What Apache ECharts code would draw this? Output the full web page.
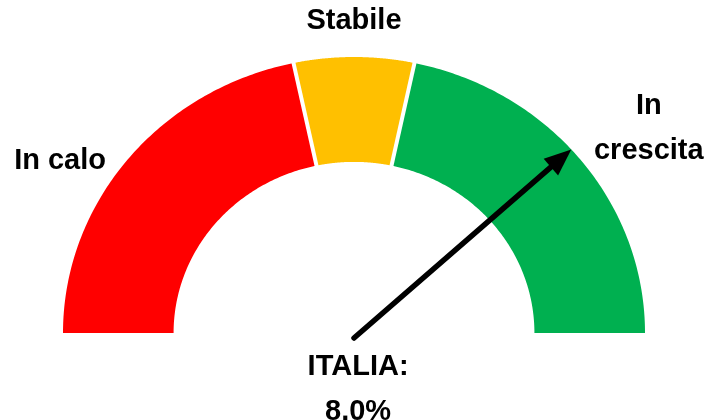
<!DOCTYPE html>
<html>
<head>
<meta charset="utf-8">
<script src="https://cdn.jsdelivr.net/npm/echarts@6/dist/echarts.min.js"></script>
<style>
html,body{margin:0;padding:0;background:#fff;}
#chart{width:705px;height:420px;}
</style>
</head>
<body>
<div id="chart"></div>
<script>
// ---- data ----
const categories = ['In calo', 'Stabile', 'In crescita'];
const categoryLabels = ['In calo', 'Stabile', 'In\ncrescita'];
const values = [65, 20, 65];
const colors = ['#FF0000', '#FFC000', '#00B050'];
const pointerName = 'ITALIA';
const pointerValue = 8.0;           // %
const pointerAngle = 41.7;          // degrees, direction of the arrow
// ---- layout (not data) ----
const innerRatio = 0.62;
const labelAnchors = [[-1.01, 0.625], [0.0, 1.13], [1.013, 0.74]];
const pointerLabelAnchor = [0.014, -0.205];
const FONT = 'bold 29px "Liberation Sans", Arial, sans-serif';

const total = values.reduce((a, b) => a + b, 0);
let acc = 0;
const segData = values.map((v, i) => {
  const start = 180 - acc / total * 180;
  acc += v;
  const end = 180 - acc / total * 180;
  return { name: categories[i], value: [start, end, i] };
});

const chart = echarts.init(document.getElementById('chart'), null, { renderer: 'canvas' });

function segRender(params, api) {
  const a0 = api.value(0), a1 = api.value(1), idx = api.value(2);
  const n = 120, pts = [];
  for (let k = 0; k <= n; k++) {
    const a = (a0 + (a1 - a0) * k / n) * Math.PI / 180;
    pts.push(api.coord([Math.cos(a), Math.sin(a)]));
  }
  for (let k = n; k >= 0; k--) {
    const a = (a0 + (a1 - a0) * k / n) * Math.PI / 180;
    pts.push(api.coord([innerRatio * Math.cos(a), innerRatio * Math.sin(a)]));
  }
  const children = [{
    type: 'polygon', shape: { points: pts },
    style: { fill: colors[idx] }
  }];
  if (idx > 0) {
    const a = a0 * Math.PI / 180;
    const p1 = api.coord([innerRatio * 0.97 * Math.cos(a), innerRatio * 0.97 * Math.sin(a)]);
    const p2 = api.coord([1.03 * Math.cos(a), 1.03 * Math.sin(a)]);
    children.push({ type: 'line', shape: { x1: p1[0], y1: p1[1], x2: p2[0], y2: p2[1] },
      style: { stroke: '#fff', lineWidth: 4 }, z2: 5 });
  }
  const lp = api.coord(labelAnchors[idx]);
  children.push({
    type: 'text', z2: 10,
    style: { text: categoryLabels[idx], x: lp[0], y: lp[1], fill: '#000', font: FONT,
      align: 'center', verticalAlign: 'middle', lineHeight: 45 }
  });
  return { type: 'group', children };
}

function pointerRender(params, api) {
  const ang = api.value(1) * Math.PI / 180;
  const T = api.coord([0, -0.018]);
  const P = api.coord([Math.cos(ang), Math.sin(ang)]);
  const dx = P[0] - T[0], dy = P[1] - T[1];
  const len = Math.sqrt(dx * dx + dy * dy);
  const ux = dx / len, uy = dy / len, nx = -uy, ny = ux;
  const L = 27, W = 11;
  const B = [P[0] - ux * L, P[1] - uy * L];
  const lp = api.coord(pointerLabelAnchor);
  return {
    type: 'group', children: [
      { type: 'line', shape: { x1: T[0], y1: T[1], x2: B[0] + ux * 3, y2: B[1] + uy * 3 },
        style: { stroke: '#000', lineWidth: 5.5, lineCap: 'round' } },
      { type: 'polygon', shape: { points: [P, [B[0] + nx * W, B[1] + ny * W], [B[0] - nx * W, B[1] - ny * W]] },
        style: { fill: '#000' } },
      { type: 'text', style: {
          text: pointerName + ':\n' + api.value(0).toFixed(1) + '%',
          x: lp[0], y: lp[1], fill: '#000', font: FONT,
          align: 'center', verticalAlign: 'middle', lineHeight: 45 } }
    ]
  };
}

chart.setOption({
  backgroundColor: '#fff',
  animation: false,
  grid: { left: 63, right: 60, top: 57, bottom: 31.8 },
  xAxis: { type: 'value', min: -1, max: 1, show: false },
  yAxis: { type: 'value', min: -0.2, max: 1, show: false },
  series: [
    { type: 'custom', name: 'segments', renderItem: segRender, data: segData, clip: false, silent: true },
    { type: 'custom', name: pointerName, renderItem: pointerRender, data: [[pointerValue, pointerAngle]], clip: false, silent: true, z: 5 }
  ]
});
</script>
</body>
</html>
